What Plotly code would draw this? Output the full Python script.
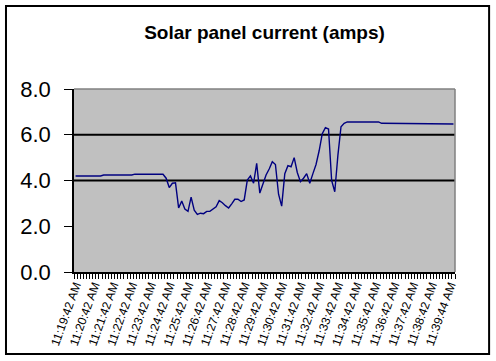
import plotly.graph_objects as go

# ---- data ----
tick_labels = ["11:19:42 AM", "11:20:42 AM", "11:21:42 AM", "11:22:42 AM", "11:23:42 AM",
               "11:24:42 AM", "11:25:42 AM", "11:26:42 AM", "11:27:42 AM", "11:28:42 AM",
               "11:29:42 AM", "11:30:42 AM", "11:31:42 AM", "11:32:42 AM", "11:33:42 AM",
               "11:34:42 AM", "11:35:42 AM", "11:36:42 AM", "11:37:42 AM", "11:38:42 AM",
               "11:39:44 AM"]
label_every = 6

current = [
    4.20, 4.20, 4.20, 4.20, 4.20, 4.20, 4.20, 4.20, 4.20,            # 0-8
    4.24, 4.24, 4.24, 4.24, 4.24, 4.24, 4.24, 4.24, 4.24, 4.24,      # 9-18
    4.28, 4.28, 4.28, 4.28, 4.28, 4.28, 4.28, 4.28, 4.28,            # 19-27
    4.27, 4.10, 3.69, 3.88, 3.90, 2.80, 3.10, 2.75, 2.65, 3.27,      # 28-37
    2.70, 2.52, 2.57, 2.55, 2.65, 2.65, 2.75, 2.85, 3.12, 3.03,      # 38-47
    2.90, 2.80, 2.98, 3.18, 3.18, 3.08, 3.15, 4.02, 4.20, 3.88,      # 48-57
    4.75, 3.45, 3.85, 4.24, 4.50, 4.82, 4.70, 3.40, 2.88, 4.30,      # 58-67
    4.65, 4.60, 5.00, 4.35, 3.95, 4.10, 4.30, 3.88, 4.30, 4.70,      # 68-77
    5.30, 6.05, 6.31, 6.25, 4.00, 3.51, 5.10, 6.35, 6.50,            # 78-86
    6.56, 6.56, 6.56, 6.56, 6.56, 6.56, 6.56, 6.56, 6.56, 6.56, 6.56,  # 87-97
    6.50, 6.50, 6.50, 6.50, 6.50, 6.50, 6.50, 6.50, 6.50, 6.50,      # 98-107
    6.50, 6.50, 6.50, 6.50, 6.50, 6.50, 6.50, 6.50, 6.50, 6.50,      # 108-117
    6.50, 6.50, 6.50, 6.47,                                          # 118-121
]
y_ticks = [0, 2, 4, 6, 8]
grid_values = [4, 6]

x_idx = list(range(len(current)))
tick_positions = [i * label_every for i in range(len(tick_labels))]

FONT = "Arial, Liberation Sans, sans-serif"

fig = go.Figure()
fig.add_trace(go.Scatter(x=x_idx, y=current, mode="lines",
                         line=dict(color="#000080", width=1.4), showlegend=False,
                         hoverinfo="skip"))

shapes = []
for g in grid_values:
    shapes.append(dict(type="line", xref="paper", x0=0, x1=1, yref="y", y0=g, y1=g,
                       line=dict(color="black", width=2), layer="below"))
# plot area top/right border (gray)
shapes.append(dict(type="line", xref="paper", yref="paper", x0=0, x1=1, y0=1, y1=1,
                   line=dict(color="#808080", width=1.5)))
shapes.append(dict(type="line", xref="paper", yref="paper", x0=1, x1=1, y0=0, y1=1,
                   line=dict(color="#808080", width=1.5)))
# outer chart border
shapes.append(dict(type="rect", xref="paper", yref="paper",
                   x0=-0.1785, x1=1.0895, y0=-0.448, y1=1.4536,
                   line=dict(color="black", width=2)))

fig.update_layout(
    width=496, height=361,
    margin=dict(l=74, r=41, t=89, b=89),
    paper_bgcolor="white", plot_bgcolor="#c0c0c0",
    title=dict(text="<b>Solar panel current (amps)</b>", x=0.5, xref="paper",
               y=0.91, yref="container", yanchor="middle",
               font=dict(family=FONT, size=19, color="black")),
    xaxis=dict(range=[-0.5, len(current) - 0.5], tickmode="array",
               tickvals=tick_positions, ticktext=tick_labels, tickangle=-70,
               ticks="", showgrid=False, zeroline=False,
               showline=True, linecolor="black", linewidth=1.5,
               tickfont=dict(family=FONT, size=12, color="black"),
               minor=dict(ticks="outside", ticklen=5, tickcolor="black", tickwidth=1,
                          tick0=-0.5, dtick=1, showgrid=False)),
    yaxis=dict(range=[0, 8], tickmode="array", tickvals=y_ticks,
               tickformat=".1f", ticks="outside", ticklen=8, tickcolor="black",
               showgrid=False, zeroline=False, showline=True, linecolor="black",
               linewidth=1.5, ticklabelstandoff=9,
               tickfont=dict(family=FONT, size=22, color="black")),
    shapes=shapes,
)

fig.write_html("out.html", config={"displayModeBar": False},
               post_script="document.body.style.margin='0';document.body.style.overflow='hidden';")
